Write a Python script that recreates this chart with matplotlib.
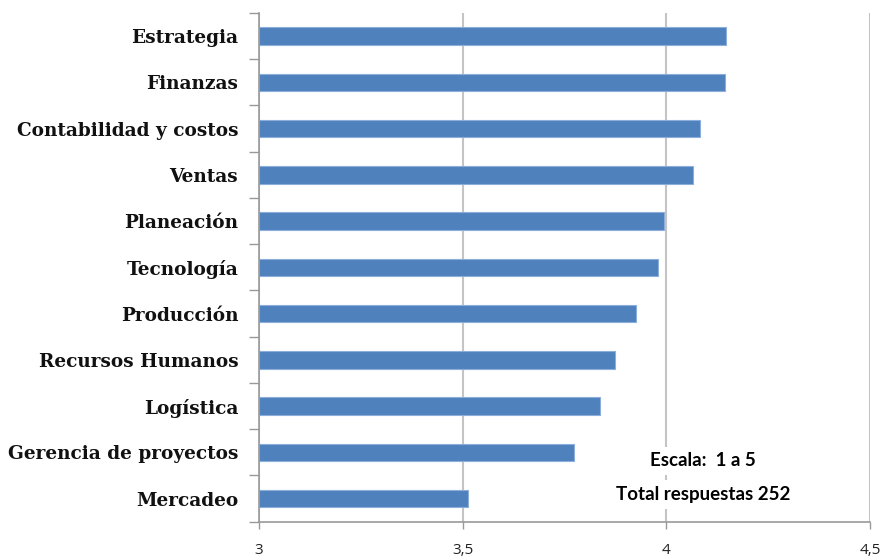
import matplotlib
matplotlib.use("Agg")
import matplotlib.pyplot as plt

categories = ["Estrategia", "Finanzas", "Contabilidad y costos", "Ventas", "Planeación",
              "Tecnología", "Producción", "Recursos Humanos", "Logística",
              "Gerencia de proyectos", "Mercadeo"]
values = [4.146, 4.144, 4.082, 4.066, 3.994, 3.979, 3.926, 3.875, 3.837, 3.774, 3.513]
xticks = [3, 3.5, 4, 4.5]
xtick_labels = ["3", "3,5", "4", "4,5"]
note_lines = ["Escala:  1 a 5", "Total respuestas 252"]

fig = plt.figure(figsize=(8.83, 5.56), dpi=100)
ax = fig.add_axes([259/883, 1-521.7/556, (870-259)/883, (521.7-13)/556])

y = list(range(len(categories)))
ax.barh(y, [v - 3 for v in values], left=3, height=0.38, color="#4F81BD",
        edgecolor="#8CAEDB", linewidth=0.8, zorder=3)

ax.set_xlim(3, 4.5)
ax.set_ylim(len(categories) - 0.5, -0.5)
ax.set_xticks(xticks)
ax.set_xticklabels(xtick_labels, fontfamily="Open Sans", fontsize=11, color="#222222")
ax.set_yticks(y)
ax.set_yticklabels(categories, fontfamily="DejaVu Serif", fontweight="bold", fontsize=13.3, color="#111111")
ax.tick_params(axis="y", length=0, pad=15)
ax.tick_params(axis="x", length=5, width=1, color="#999999", pad=10, direction="out")
# minor ticks at category boundaries
ax.set_yticks([i + 0.5 for i in range(-1, len(categories))], minor=True)
ax.tick_params(axis="y", which="minor", length=7.5, width=1, color="#999999")

ax.grid(axis="x", color="#c4c4c4", linewidth=1.5, zorder=0)
for s in ["top", "right"]:
    ax.spines[s].set_visible(False)
ax.spines["left"].set_color("#999999")
ax.spines["bottom"].set_color("#999999")
ax.spines["left"].set_linewidth(1.2)
ax.spines["bottom"].set_linewidth(1.2)
ax.spines["left"].set_zorder(4)

ax.text(4.09, 9.18, note_lines[0], ha="center", va="center", fontfamily="Lato",
        fontweight="bold", fontsize=13.5, color="black", zorder=5,
        bbox=dict(facecolor="white", edgecolor="none", pad=4))
ax.text(4.09, 9.91, note_lines[1], ha="center", va="center", fontfamily="Lato",
        fontweight="bold", fontsize=13.5, color="black", zorder=5,
        bbox=dict(facecolor="white", edgecolor="none", pad=4))

fig.savefig("out.png", dpi=100)
